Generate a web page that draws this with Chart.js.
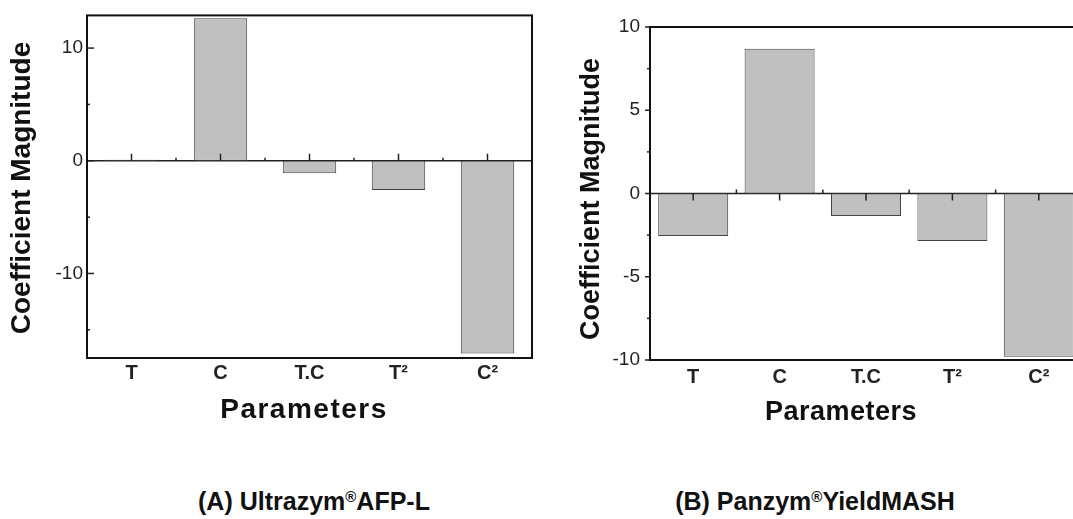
<!DOCTYPE html>
<html><head><meta charset="utf-8">
<script src="https://cdn.jsdelivr.net/npm/chart.js@4.4.1/dist/chart.umd.min.js"></script>
<style>
html,body{margin:0;padding:0;background:#fff;width:1073px;height:519px;overflow:hidden;position:relative;font-family:"Liberation Sans",Arial,sans-serif;}
#wa{position:absolute;left:0;top:0;width:540px;height:440px;}
#wb{position:absolute;left:540px;top:0;width:560px;height:440px;}
.cap{position:absolute;top:486px;font-weight:bold;font-size:25px;line-height:30px;color:#111;white-space:nowrap;transform:translateX(-50%);}
.cap sup{font-size:0.6em;vertical-align:0.55em;line-height:0;}
</style></head>
<body>
<div id="wa"><canvas id="ca" width="540" height="440"></canvas></div>
<div id="wb"><canvas id="cb" width="560" height="440"></canvas></div>
<div class="cap" style="left:314px">(A) Ultrazym<sup>®</sup>AFP-L</div>
<div class="cap" style="left:815px">(B) Panzym<sup>®</sup>YieldMASH</div>
<script>
const categories = ['T', 'C', 'T.C', 'T²', 'C²'];
const coefA = [0.1, 12.65, -1.1, -2.6, -17.1];
const coefB = [-2.55, 8.7, -1.35, -2.85, -9.8];
const yLabelsA = [10, 0, -10];
const yLabelsB = [10, 5, 0, -5, -10];
const xTitle = 'Parameters';
const yTitle = 'Coefficient Magnitude';

function line(ctx, x1, y1, x2, y2) { ctx.beginPath(); ctx.moveTo(x1, y1); ctx.lineTo(x2, y2); ctx.stroke(); }

const decor = {
  id: 'decor',
  beforeDatasetsDraw(chart) {
    const {ctx, chartArea: a, scales: {y}} = chart;
    const y0 = y.getPixelForValue(0);
    ctx.save();
    ctx.strokeStyle = '#222';
    ctx.lineWidth = 1.5;
    line(ctx, a.left, y0, a.right, y0);
    ctx.restore();
  },
  afterDatasetsDraw(chart, args, o) {
    const {ctx, chartArea: a, scales: {x, y}} = chart;
    ctx.save();
    const y0 = y.getPixelForValue(0);
    ctx.strokeStyle = '#222';
    ctx.lineWidth = 1.5;
    const n = x.ticks.length;
    for (let i = 0; i < n; i++) {
      const px = x.getPixelForTick(i);
      line(ctx, px, y0, px, y0 + o.centerTick);
      if (i > 0) {
        const pb = (x.getPixelForTick(i - 1) + px) / 2;
        line(ctx, pb, y0, pb, y0 + o.edgeTick);
      }
    }
    y.ticks.forEach(t => {
      const py = y.getPixelForValue(t.value);
      const major = o.labeled.includes(t.value);
      const len = major ? o.yMajor : o.yMinor;
      line(ctx, a.left, py, a.left + len * o.yDir, py);
    });
    ctx.lineWidth = 2;
    ctx.strokeStyle = '#111';
    ctx.strokeRect(a.left, a.top, a.right - a.left, a.bottom - a.top);
    // axis titles
    ctx.fillStyle = '#111';
    ctx.textAlign = 'center';
    ctx.textBaseline = 'middle';
    ctx.font = 'bold ' + o.xtSize + 'px "Liberation Sans", Arial, sans-serif';
    if ('letterSpacing' in ctx) ctx.letterSpacing = o.xtSpacing + 'px';
    ctx.fillText(xTitle, o.xtX, o.xtY);
    if ('letterSpacing' in ctx) ctx.letterSpacing = '0px';
    ctx.translate(o.ytX, o.ytY);
    ctx.rotate(-Math.PI / 2);
    ctx.font = 'bold ' + o.ytSize + 'px "Liberation Sans", Arial, sans-serif';
    ctx.fillText(yTitle, 0, 0);
    ctx.restore();
  }
};

function makeChart(id, values, yMin, yMax, step, labeled, cfg) {
  return new Chart(document.getElementById(id), {
    type: 'bar',
    data: {
      labels: categories,
      datasets: [{
        data: values,
        backgroundColor: '#c0c0c0',
        borderColor: '#444',
        borderWidth: 1,
        borderSkipped: false,
        barPercentage: cfg.barPct,
        categoryPercentage: 1
      }]
    },
    options: {
      responsive: false,
      animation: false,
      layout: {padding: {left: 0, top: cfg.padTop, right: cfg.padRight, bottom: 0}},
      plugins: {legend: {display: false}, tooltip: {enabled: false}, decor: cfg.decor},
      scales: {
        x: {
          grid: {display: false, drawTicks: false},
          border: {display: false},
          ticks: {color: '#222', font: {family: '"Liberation Sans", Arial, sans-serif', size: 20, weight: 'bold'}, padding: cfg.xPad},
          afterFit: s => { s.height = cfg.xH; }
        },
        y: {
          min: yMin, max: yMax,
          grid: {display: false, drawTicks: false},
          border: {display: false},
          ticks: {
            stepSize: step, includeBounds: false,
            color: '#222', font: {family: '"Liberation Sans", Arial, sans-serif', size: 19},
            padding: cfg.yPad,
            callback: v => labeled.includes(v) ? String(v) : ''
          },
          afterFit: s => { s.width = cfg.yW; }
        }
      }
    },
    plugins: [decor]
  });
}

makeChart('ca', coefA, -17.5, 12.9, 5, yLabelsA, {
  barPct: 0.6, padTop: 12, padRight: 8, xH: 82, yW: 87, xPad: 3, yPad: 4,
  decor: {centerTick: -7, edgeTick: -3, yDir: 1, yMajor: 7, yMinor: 3, labeled: yLabelsA,
          xtSize: 28, xtSpacing: 1.5, xtX: 304, xtY: 410, ytSize: 28, ytX: 22, ytY: 188}
});
makeChart('cb', coefB, -10, 10, 2.5, yLabelsB, {
  barPct: 0.81, padTop: 27, padRight: 18, xH: 80, yW: 110, xPad: 5, yPad: 10,
  decor: {centerTick: 7, edgeTick: -4, yDir: -1, yMajor: 5, yMinor: 3, labeled: yLabelsB,
          xtSize: 27, xtSpacing: 0.5, xtX: 301, xtY: 413, ytSize: 27, ytX: 52, ytY: 199}
});
</script>
</body></html>
